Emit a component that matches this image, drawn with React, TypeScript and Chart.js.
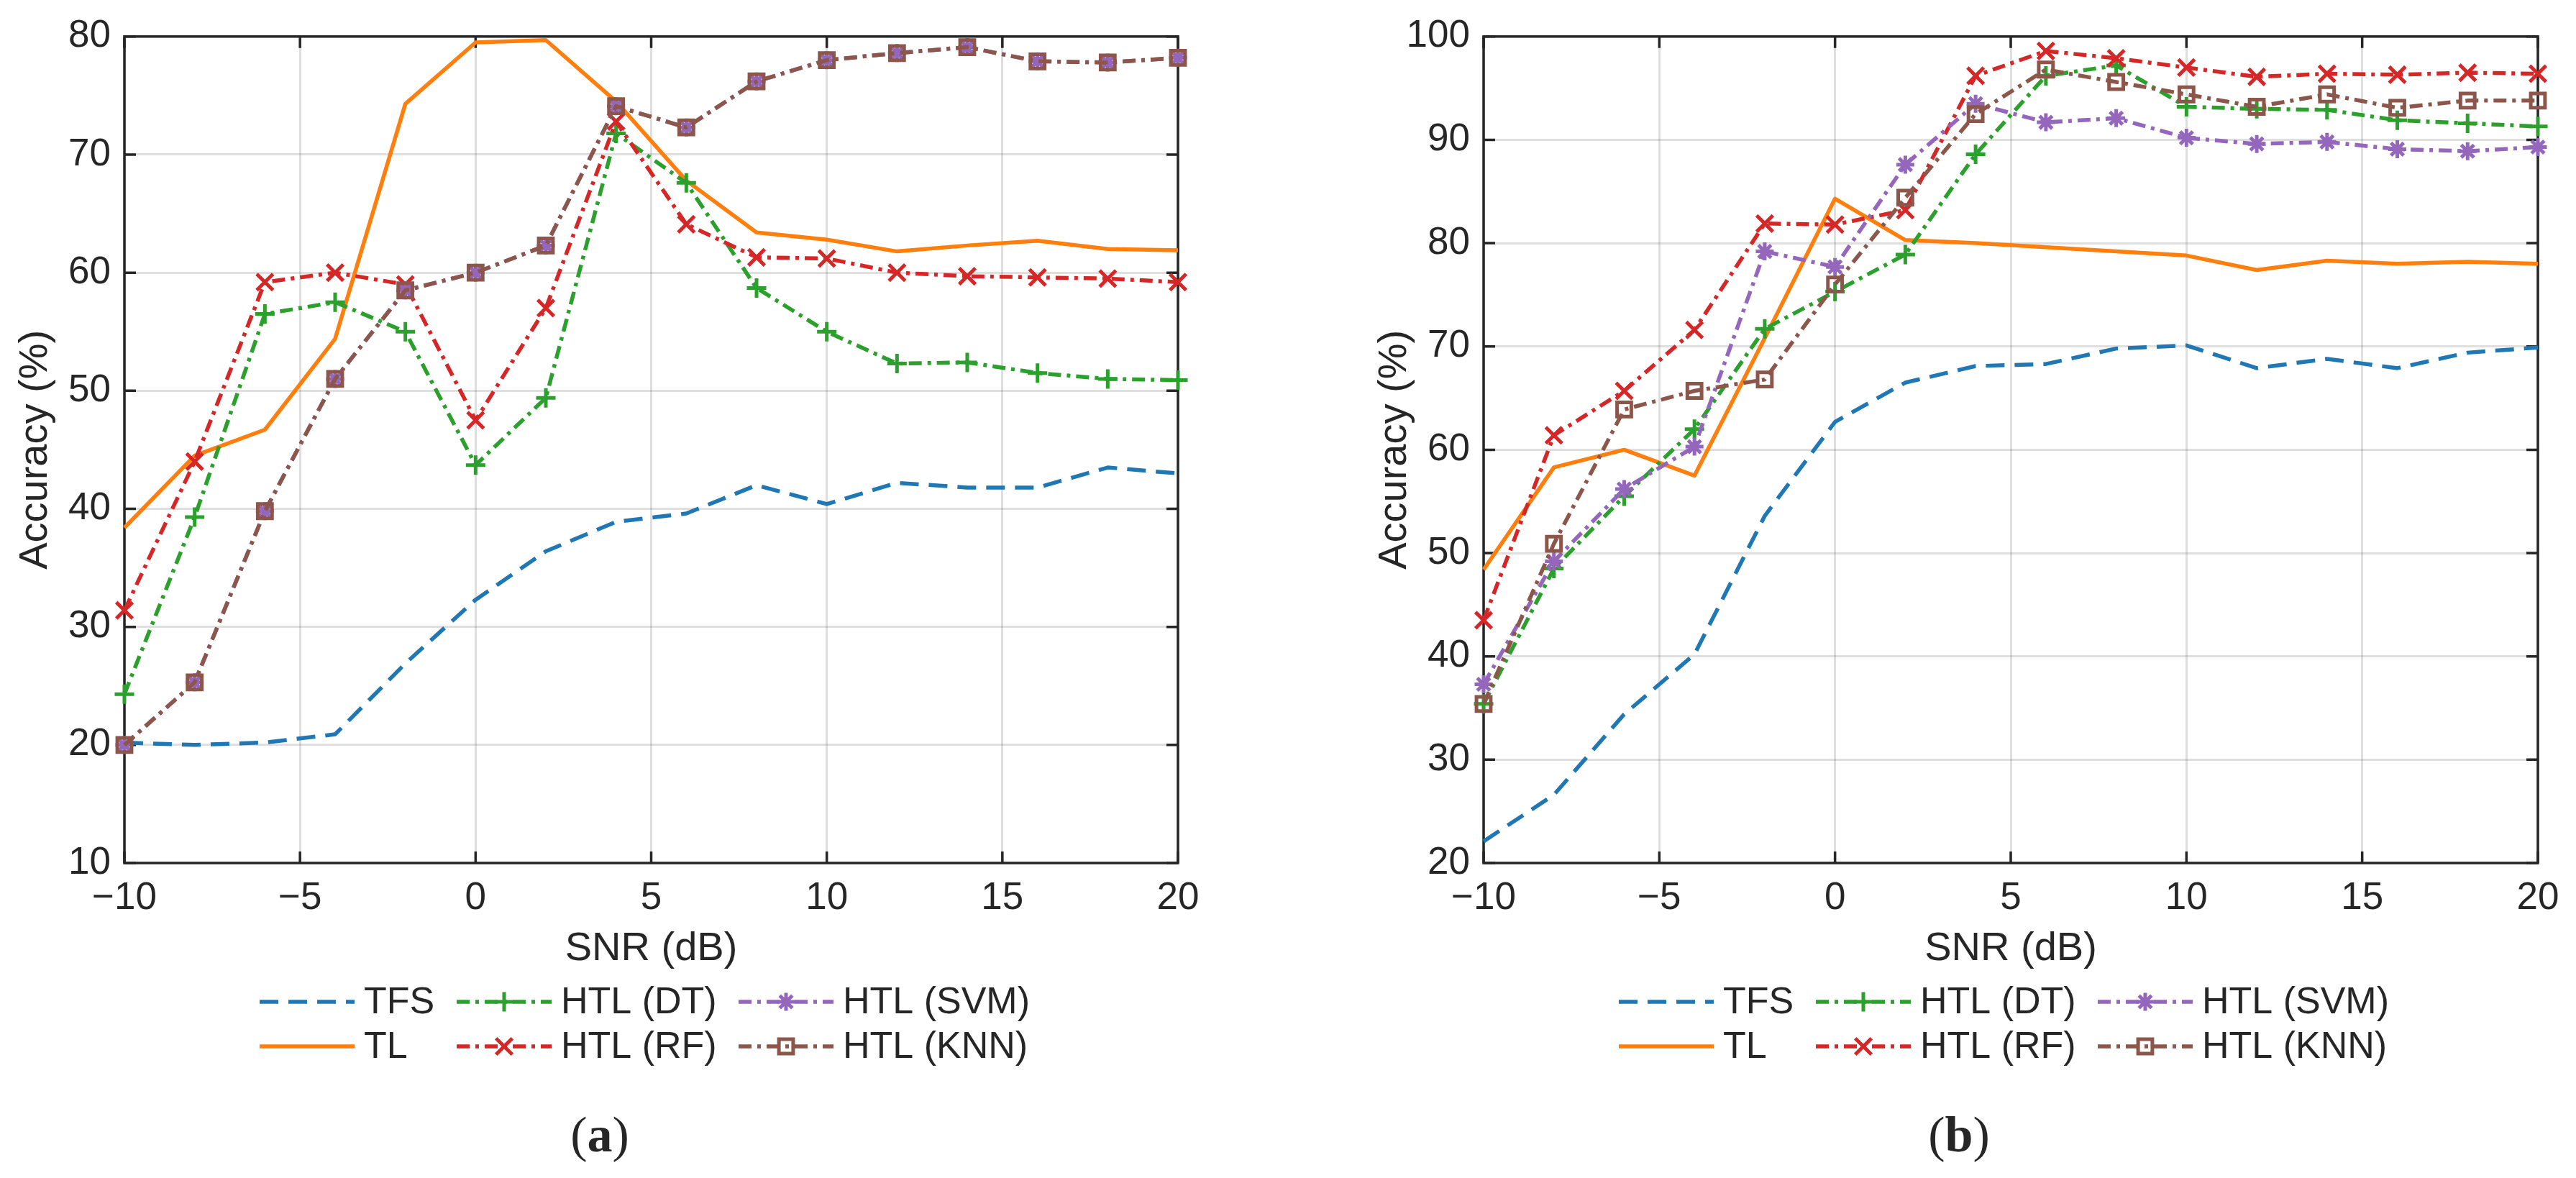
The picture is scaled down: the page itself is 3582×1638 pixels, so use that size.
import React, { useEffect, useRef } from 'react';
import { Chart, registerables } from 'chart.js';

Chart.register(...registerables);

// ---------- data ----------
const SNR = [-10, -8, -6, -4, -2, 0, 2, 4, 6, 8, 10, 12, 14, 16, 18, 20];
const X_TICKS = [-10, -5, 0, 5, 10, 15, 20];
const Y_TICKS_A = [10, 20, 30, 40, 50, 60, 70, 80];
const Y_TICKS_B = [20, 30, 40, 50, 60, 70, 80, 90, 100];
const SERIES_NAMES = ['TFS', 'TL', 'HTL (DT)', 'HTL (RF)', 'HTL (SVM)', 'HTL (KNN)'];
const X_TITLE = 'SNR (dB)';
const Y_TITLE = 'Accuracy (%)';

// panel (a)
const TFS_A = [20.2, 20.0, 20.2, 20.9, 26.9, 32.3, 36.4, 38.9, 39.6, 42.0, 40.4, 42.2, 41.8, 41.8, 43.5, 43.0];
const TL_A = [38.4, 44.5, 46.7, 54.4, 74.3, 79.5, 79.7, 74.5, 67.8, 63.4, 62.8, 61.8, 62.3, 62.7, 62.0, 61.9];
const DT_A = [24.3, 39.3, 56.5, 57.5, 55.0, 43.7, 49.4, 71.8, 67.6, 58.7, 55.0, 52.3, 52.4, 51.5, 51.0, 50.9];
const RF_A = [31.4, 44.0, 59.2, 60.0, 59.0, 47.5, 57.0, 72.8, 64.1, 61.3, 61.2, 60.0, 59.7, 59.6, 59.5, 59.2];
const SVM_A = [20.0, 25.3, 39.8, 51.0, 58.5, 60.0, 62.3, 74.1, 72.3, 76.2, 78.0, 78.6, 79.1, 77.9, 77.8, 78.2];
const KNN_A = [20.0, 25.3, 39.8, 51.0, 58.5, 60.0, 62.3, 74.1, 72.3, 76.2, 78.0, 78.6, 79.1, 77.9, 77.8, 78.2];

// panel (b)
const TFS_B = [22.1, 26.6, 34.4, 40.2, 53.6, 62.7, 66.5, 68.1, 68.3, 69.8, 70.1, 67.9, 68.8, 67.9, 69.4, 69.9];
const TL_B = [48.4, 58.3, 60.0, 57.5, 70.8, 84.3, 80.3, 80.0, 79.6, 79.2, 78.8, 77.4, 78.3, 78.0, 78.2, 78.0];
const DT_B = [35.4, 48.5, 55.5, 62.0, 71.7, 75.3, 78.9, 88.6, 96.2, 97.2, 93.2, 93.0, 92.9, 91.9, 91.6, 91.3];
const RF_B = [43.5, 61.4, 65.7, 71.6, 81.9, 81.8, 83.2, 96.2, 98.6, 97.9, 97.0, 96.1, 96.4, 96.3, 96.5, 96.4];
const SVM_B = [37.3, 49.2, 56.2, 60.3, 79.2, 77.7, 87.6, 93.5, 91.7, 92.1, 90.2, 89.6, 89.8, 89.1, 88.9, 89.3];
const KNN_B = [35.4, 50.9, 63.9, 65.7, 66.8, 76.0, 84.4, 92.5, 96.8, 95.6, 94.4, 93.2, 94.4, 93.1, 93.8, 93.8];

// ---------- styles ----------
const COLORS = ['#1f77b4', '#ff7f0e', '#2ca02c', '#d62728', '#9467bd', '#8c564b'];
const DASH_DOT = [18, 8, 5, 8];
const DASHES = [[26, 14], [], DASH_DOT, DASH_DOT, DASH_DOT, DASH_DOT];
const POINT_STYLES = ['circle', 'circle', 'cross', 'crossRot', 'star', 'rect'];
const POINT_RADII = [0, 0, 13.5, 16, 12.5, 14];
const LINE_W = 5.5;
const INK = '#262626';
const SANS = "'Liberation Sans', Arial, Helvetica, sans-serif";
const SERIF = "'Liberation Serif', 'Times New Roman', serif";
const H = 1638;

function drawMarker(ctx: CanvasRenderingContext2D, style: string, x: number, y: number, r: number) {
  const d = r * Math.SQRT1_2;
  ctx.beginPath();
  if (style === 'cross' || style === 'star') {
    ctx.moveTo(x, y - r); ctx.lineTo(x, y + r);
    ctx.moveTo(x - r, y); ctx.lineTo(x + r, y);
  }
  if (style === 'crossRot' || style === 'star') {
    const e = style === 'star' ? d : r * Math.SQRT1_2;
    ctx.moveTo(x - e, y - e); ctx.lineTo(x + e, y + e);
    ctx.moveTo(x - e, y + e); ctx.lineTo(x + e, y - e);
  }
  if (style === 'rect') {
    ctx.rect(x - d, y - d, 2 * d, 2 * d);
  }
  ctx.stroke();
}

const decorPlugin = {
  id: 'decor',
  beforeDatasetsDraw(chart: any) {
    const { ctx, chartArea: a, scales } = chart;
    ctx.save();
    ctx.strokeStyle = INK;
    ctx.lineWidth = 3.5;
    ctx.setLineDash([]);
    ctx.strokeRect(a.left, a.top, a.right - a.left, a.bottom - a.top);
    const tl = 16;
    ctx.beginPath();
    scales.x.ticks.forEach((t: any) => {
      const px = scales.x.getPixelForValue(t.value);
      ctx.moveTo(px, a.bottom); ctx.lineTo(px, a.bottom - tl);
      ctx.moveTo(px, a.top); ctx.lineTo(px, a.top + tl);
    });
    scales.y.ticks.forEach((t: any) => {
      const py = scales.y.getPixelForValue(t.value);
      ctx.moveTo(a.left, py); ctx.lineTo(a.left + tl, py);
      ctx.moveTo(a.right, py); ctx.lineTo(a.right - tl, py);
    });
    ctx.stroke();
    ctx.restore();
  },
  afterDraw(chart: any) {
    const { ctx, chartArea: a } = chart;
    const caption = chart.options.plugins.decor.caption;
    const colX = [188, 462, 854];
    const rowY = [1393, 1455];
    const lineLen = 132;
    ctx.save();
    chart.data.datasets.forEach((ds: any, i: number) => {
      const x0 = a.left + colX[Math.floor(i / 2)];
      const y = rowY[i % 2];
      ctx.strokeStyle = ds.borderColor;
      ctx.lineWidth = ds.borderWidth;
      ctx.lineCap = 'butt';
      ctx.setLineDash(ds.borderDash || []);
      ctx.beginPath();
      ctx.moveTo(x0, y); ctx.lineTo(x0 + lineLen, y);
      ctx.stroke();
      ctx.setLineDash([]);
      if (ds.pointRadius > 0) {
        ctx.lineWidth = ds.pointBorderWidth;
        drawMarker(ctx, ds.pointStyle, x0 + lineLen / 2, y, ds.pointRadius);
      }
      ctx.fillStyle = INK;
      ctx.font = `52px ${SANS}`;
      ctx.textAlign = 'left';
      ctx.textBaseline = 'middle';
      ctx.fillText(ds.label, x0 + lineLen + 13, y + 2);
    });
    // caption "(a)" with bold letter
    const cx = a.left + 661;
    const base = 1601;
    const fN = `70px ${SERIF}`;
    const fB = `bold 70px ${SERIF}`;
    ctx.font = fN; const wo = ctx.measureText('(').width; const wc = ctx.measureText(')').width;
    ctx.font = fB; const wl = ctx.measureText(caption).width;
    let x = cx - (wo + wl + wc) / 2;
    ctx.fillStyle = INK;
    ctx.textAlign = 'left';
    ctx.textBaseline = 'alphabetic';
    ctx.font = fN; ctx.fillText('(', x, base); x += wo;
    ctx.font = fB; ctx.fillText(caption, x, base); x += wl;
    ctx.font = fN; ctx.fillText(')', x, base);
    ctx.restore();
  },
};

function fmt(v: number) {
  return v < 0 ? '\u2212' + Math.abs(v) : String(v);
}

type PanelCfg = {
  series: number[][];
  yTicks: number[];
  padRight: number;
  caption: string;
};

function makeConfig(p: PanelCfg): any {
  const yMin = p.yTicks[0];
  const yMax = p.yTicks[p.yTicks.length - 1];
  return {
    type: 'line',
    data: {
      datasets: p.series.map((s, i) => ({
        label: SERIES_NAMES[i],
        data: SNR.map((x, j) => ({ x, y: s[j] })),
        borderColor: COLORS[i],
        backgroundColor: COLORS[i],
        borderWidth: LINE_W,
        borderDash: DASHES[i],
        borderCapStyle: 'butt',
        borderJoinStyle: 'round',
        pointStyle: POINT_STYLES[i],
        pointRadius: POINT_RADII[i],
        pointHoverRadius: POINT_RADII[i],
        pointBorderWidth: 5,
        pointBorderColor: COLORS[i],
        pointBackgroundColor: 'rgba(0,0,0,0)',
        fill: false,
        tension: 0,
        clip: false,
        order: 6 - i,
      })),
    },
    options: {
      responsive: false,
      maintainAspectRatio: false,
      animation: false,
      events: [],
      layout: { padding: { left: 0, top: 43, right: p.padRight, bottom: 278 } },
      plugins: {
        legend: { display: false },
        tooltip: { enabled: false },
        decor: { caption: p.caption },
      },
      scales: {
        x: {
          type: 'linear',
          min: SNR[0],
          max: SNR[SNR.length - 1],
          afterBuildTicks: (s: any) => { s.ticks = X_TICKS.map((v) => ({ value: v })); },
          afterFit: (s: any) => { s.height = 160; },
          border: { display: false },
          grid: { color: 'rgba(38,38,38,0.15)', lineWidth: 3, drawTicks: false },
          ticks: {
            color: INK,
            font: { family: SANS, size: 53 },
            padding: 18,
            maxRotation: 0,
            autoSkip: false,
            callback: (v: number) => fmt(v),
          },
          title: {
            display: true,
            text: X_TITLE,
            color: INK,
            font: { family: SANS, size: 56 },
            padding: { top: 0, bottom: 7 },
          },
        },
        y: {
          type: 'linear',
          min: yMin,
          max: yMax,
          afterBuildTicks: (s: any) => { s.ticks = p.yTicks.map((v) => ({ value: v })); },
          afterFit: (s: any) => { s.width = 173; },
          border: { display: false },
          grid: { color: 'rgba(38,38,38,0.15)', lineWidth: 3, drawTicks: false },
          ticks: {
            color: INK,
            font: { family: SANS, size: 53 },
            padding: 19,
            autoSkip: false,
            callback: (v: number) => fmt(v),
          },
          title: {
            display: true,
            text: Y_TITLE,
            color: INK,
            font: { family: SANS, size: 56 },
            padding: { top: 16, bottom: 0 },
          },
        },
      },
    },
    plugins: [decorPlugin],
  };
}

function Panel({ cfg, left, width }: { cfg: PanelCfg; left: number; width: number }) {
  const ref = useRef<HTMLCanvasElement>(null);
  useEffect(() => {
    const chart = new Chart(ref.current as HTMLCanvasElement, makeConfig(cfg));
    return () => chart.destroy();
  }, []);
  return (
    <canvas
      ref={ref}
      width={width}
      height={H}
      style={{ position: 'absolute', left, top: 0, width, height: H }}
    />
  );
}

const PANEL_A: PanelCfg = {
  series: [TFS_A, TL_A, DT_A, RF_A, SVM_A, KNN_A],
  yTicks: Y_TICKS_A,
  padRight: 252,
  caption: 'a',
};
const PANEL_B: PanelCfg = {
  series: [TFS_B, TL_B, DT_B, RF_B, SVM_B, KNN_B],
  yTicks: Y_TICKS_B,
  padRight: 53,
  caption: 'b',
};

export default function App() {
  useEffect(() => {
    document.body.style.margin = '0';
  }, []);
  return (
    <div style={{ position: 'fixed', left: 0, top: 0, width: 3582, height: H, background: '#ffffff', overflow: 'hidden' }}>
      <Panel cfg={PANEL_A} left={0} width={1890} />
      <Panel cfg={PANEL_B} left={1890} width={1692} />
    </div>
  );
}
